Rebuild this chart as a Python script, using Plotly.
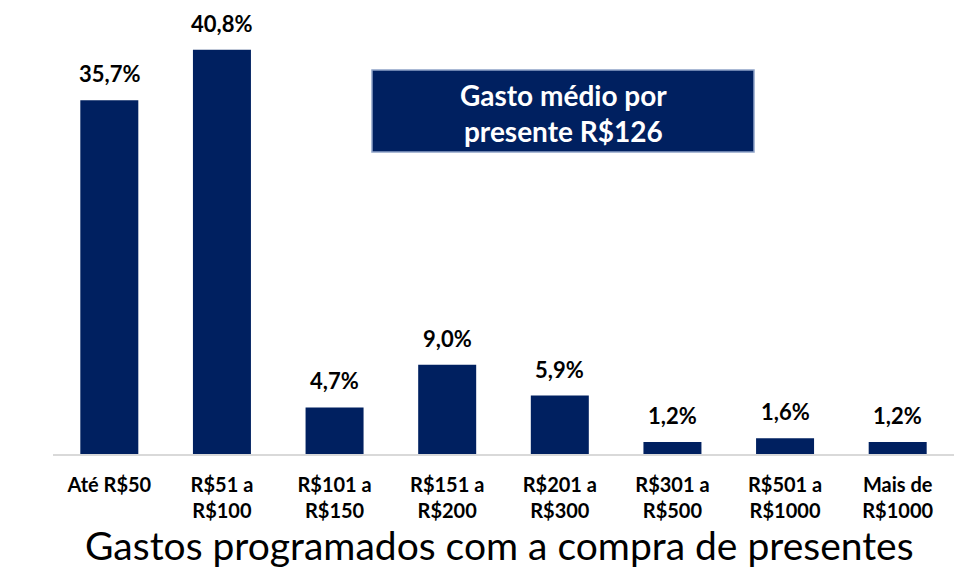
import plotly.graph_objects as go

categories = ["Até R$50", "R$51 a<br>R$100", "R$101 a<br>R$150", "R$151 a<br>R$200",
              "R$201 a<br>R$300", "R$301 a<br>R$500", "R$501 a<br>R$1000", "Mais de<br>R$1000"]
values = [35.7, 40.8, 4.7, 9.0, 5.9, 1.2, 1.6, 1.2]
labels = [f"{v:.1f}%".replace(".", ",") for v in values]
title = "Gastos programados com a compra de presentes"
box_lines = ["Gasto médio por", "presente R$126"]

NAVY = "#002060"
FONT = "Lato"

fig = go.Figure(go.Bar(
    x=categories, y=values, marker_color=NAVY, marker_line_width=0,
    hoverinfo="x+y",
))

bar_labels = [
    dict(x=c, y=v, xref="x", yref="y", text=f"<b>{t}</b>", showarrow=False,
         xanchor="center", yanchor="bottom", yshift=11,
         font=dict(family=FONT, size=22, color="#000000"))
    for c, v, t in zip(categories, values, labels)
]

fig.update_layout(
    width=966, height=570,
    margin=dict(l=53, r=12, t=8, b=116),
    paper_bgcolor="white", plot_bgcolor="white",
    bargap=0.485, showlegend=False,
    font=dict(family=FONT, color="#000000"),
    xaxis=dict(
        tickmode="array", tickvals=categories,
        ticktext=["<br>".join(f"<b>{p}</b>" for p in c.split("<br>")) for c in categories],
        tickfont=dict(family=FONT, size=20, color="#000000"),
        showline=True, linecolor="#D9D9D9", linewidth=2,
        ticks="outside", tickcolor="rgba(0,0,0,0)", ticklen=12,
    ),
    yaxis=dict(range=[0, 45], visible=False, showgrid=False),
    shapes=[dict(type="rect", xref="paper", yref="paper",
                 x0=(372 - 53) / 901, x1=(754 - 53) / 901,
                 y0=(454 - 152) / 446, y1=(454 - 70) / 446,
                 fillcolor=NAVY, line=dict(color="#8EA3C8", width=1.5), layer="above")],
    annotations=bar_labels + [
        dict(text="<br>".join(f"<b>{l}</b>" for l in box_lines), xref="paper", yref="paper",
             x=(563 - 53) / 901, y=(454 - 113) / 446, showarrow=False,
             xanchor="center", yanchor="middle",
             font=dict(family=FONT, size=28, color="white"), align="center"),
        dict(text=title, xref="paper", yref="paper",
             x=(499 - 53) / 901, y=(454 - 545) / 446, showarrow=False,
             xanchor="center", yanchor="middle",
             font=dict(family=FONT, size=39, color="#000000")),
    ],
)

fig.write_html("out.html", config={"displayModeBar": False},
               post_script="document.body.style.margin='0';")
